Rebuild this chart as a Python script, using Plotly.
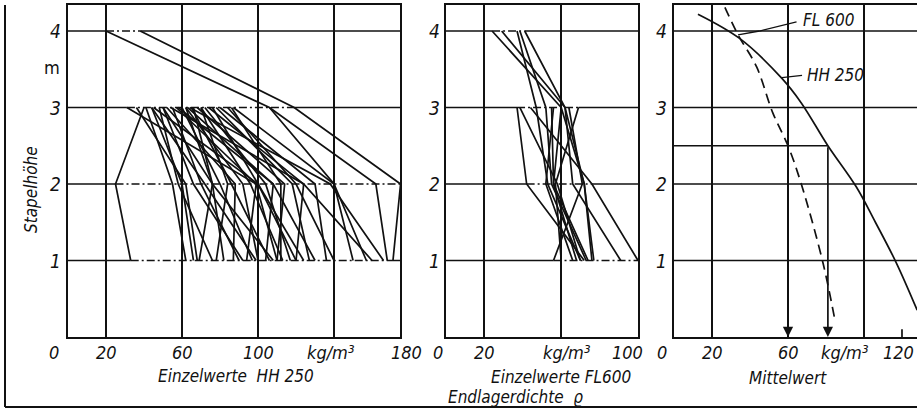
import plotly.graph_objects as go

# ---------------- data ----------------
HEIGHTS = [1, 2, 3, 4]  # Stapelhöhe in m

# Einzelwerte HH 250: density (kg/m³) at height 1, 2, 3 (and 4 where measured)
HH250_SINGLE = [
    [33, 25, 40], [62, 55, 41], [66, 60, 44], [68, 62, 36], [99, 72, 44],
    [110, 99, 31], [76, 58, 48], [82, 76, 50], [87, 88, 52], [90, 70, 55],
    [94, 99, 57], [97, 80, 60], [100, 92, 62], [104, 108, 63], [106, 86, 65],
    [108, 76, 66], [110, 114, 68], [113, 96, 70], [117, 104, 72], [120, 124, 74],
    [124, 100, 76], [127, 118, 78], [130, 108, 58], [136, 130, 80], [140, 120, 84],
    [150, 140, 106], [157, 140, 87], [160, 124, 54], [166, 138, 64], [112, 112, 86],
    [78, 84, 70], [92, 66, 50], [120, 100, 45], [69, 76, 62],
    [168, 162, 106, 20], [171, 175, 119, 38],
]

# Einzelwerte FL 600
FL600_SINGLE = [
    [74, 56, 60, 24], [91, 66, 62, 29], [70, 53, 47, 37], [73, 55, 52, 38.5],
    [76, 72, 62, 41], [72, 42, 37], [70, 58, 38.5], [100, 76, 44], [68, 56, 55],
    [60, 57, 69], [56, 71, 64], [77, 72, 60], [66, 52, 56],
]

# Mittelwerte
MEAN_HH250_H = [4.22, 3.9, 3.38, 3.06, 2.5, 1.96, 1.5, 0.97, 0.35]
MEAN_HH250_X = [12.6, 34.7, 56.8, 67, 81, 96, 106, 117, 128]
MEAN_FL600_H = [4.31, 3.95, 3.53, 2.93, 2.5, 2.0, 0.97, 0.22]
MEAN_FL600_X = [26.8, 33.7, 43.5, 52, 60, 67, 78.4, 84.7]

READ_HEIGHT = 2.5
READ_VALUES = [60, 81]

X1_TICKS = [20, 60, 100, 138]
X1_TEXT = ["20", "60", "100", "kg/m³"]
X2_TICKS = [20, 63]
X2_TEXT = ["20", "kg/m³"]
X3_TICKS = [20, 60, 90]
X3_TEXT = ["20", "60", "kg/m³"]
GRID1 = [20, 60, 100, 140]
GRID2 = [20, 60]
GRID3 = [20, 60, 100]
Y_TEXT = ["1", "2", "3", "4"]

# ---------------- layout constants ----------------
W, H = 917, 414
FONT = "Liberation Sans Narrow, DejaVu Sans Condensed, Liberation Sans, Arial, sans-serif"
INK = "#111111"
TICK_SIZE = 18


def px(v):
    return v / W


def py(v):
    return 1 - v / H


def label(x, y, text, xref="paper", yref="paper", size=16, **kw):
    d = dict(x=x, y=y, xref=xref, yref=yref, text=text, showarrow=False,
             xanchor="center", yanchor="middle", font=dict(size=size))
    d.update(kw)
    return d


YDOM = [py(337), py(5)]
YMAX = 4.34
panels = [
    dict(ax="", dom=[px(68), px(400)], xmax=174.7, grid=GRID1, data=HH250_SINGLE,
         ticks=X1_TICKS, text=X1_TEXT, ylab_x=55, zero_x=54, mirror=True),
    dict(ax="2", dom=[px(446), px(638)], xmax=100, grid=GRID2, data=FL600_SINGLE,
         ticks=X2_TICKS, text=X2_TEXT, ylab_x=434, zero_x=438, mirror=True),
    dict(ax="3", dom=[px(674), 1.0], xmax=127.9, grid=GRID3, data=None,
         ticks=X3_TICKS, text=X3_TEXT, ylab_x=661, zero_x=662, mirror=False),
]

fig = go.Figure()
shapes = []
annotations = []

for p in panels:
    xa, ya = "x" + p["ax"], "y" + p["ax"]
    # individual measurement lines
    if p["data"]:
        for vals in p["data"]:
            fig.add_trace(go.Scatter(
                x=vals, y=HEIGHTS[:len(vals)], mode="lines",
                line=dict(color=INK, width=1.7), xaxis=xa, yaxis=ya,
                showlegend=False, hoverinfo="skip"))
    # horizontal level lines: dash-dot across the measured range, solid elsewhere
    for lev in HEIGHTS:
        vals = [v[lev - 1] for v in (p["data"] or []) if len(v) >= lev]
        if vals:
            lo, hi = min(vals), max(vals)
            segs = [(0, lo, "solid"), (lo, hi, "8px,3px,2px,3px"), (hi, p["xmax"], "solid")]
        else:
            segs = [(0, p["xmax"], "solid")]
        for a, b, d in segs:
            if b - a <= 0:
                continue
            shapes.append(dict(type="line", xref=xa, yref=ya, x0=a, x1=b, y0=lev, y1=lev,
                               line=dict(color=INK, width=1.5, dash=d), layer="below"))
    # x tick labels
    for t, s in zip(p["ticks"], p["text"]):
        annotations.append(label(t, py(352), s, xref=xa, size=TICK_SIZE))
    annotations.append(label(px(p["zero_x"]), py(352), "0", size=TICK_SIZE))
    # y tick labels
    for lev, s in zip(HEIGHTS, Y_TEXT):
        annotations.append(label(px(p["ylab_x"]), lev, s, yref=ya, size=TICK_SIZE + 1))
    axis_x = dict(domain=p["dom"], range=[0, p["xmax"]], showgrid=True,
                  tickvals=p["grid"], showticklabels=False, ticks="",
                  gridcolor=INK, gridwidth=1.5, zeroline=False,
                  showline=True, linecolor=INK, linewidth=2, mirror=True,
                  anchor=ya, fixedrange=True)
    axis_y = dict(domain=YDOM, range=[0, YMAX], showgrid=False, showticklabels=False,
                  ticks="", zeroline=False, showline=True, linecolor=INK, linewidth=2,
                  mirror=p["mirror"], anchor=xa, fixedrange=True)
    fig.update_layout(**{"xaxis" + p["ax"]: axis_x, "yaxis" + p["ax"]: axis_y})

# end-of-scale labels placed at the panel edges
annotations += [
    label(px(406), py(352), "180", size=TICK_SIZE),
    label(px(627), py(352), "100", size=TICK_SIZE),
    label(px(916), py(352), "120", size=TICK_SIZE, xanchor="right"),
]

# mean value curves (panel 3)
fig.add_trace(go.Scatter(x=MEAN_HH250_X, y=MEAN_HH250_H, mode="lines", line_shape="spline",
                         line=dict(color=INK, width=1.7), xaxis="x3", yaxis="y3",
                         showlegend=False, hoverinfo="skip"))
fig.add_trace(go.Scatter(x=MEAN_FL600_X, y=MEAN_FL600_H, mode="lines", line_shape="spline",
                         line=dict(color=INK, width=1.7, dash="10px,6px"), xaxis="x3", yaxis="y3",
                         showlegend=False, hoverinfo="skip"))

# read-off construction at 2.5 m
shapes.append(dict(type="line", xref="x3", yref="y3", x0=0, x1=max(READ_VALUES),
                   y0=READ_HEIGHT, y1=READ_HEIGHT, line=dict(color=INK, width=1.7)))
for v in READ_VALUES:
    annotations.append(dict(x=v, y=0, ax=v, ay=READ_HEIGHT, xref="x3", yref="y3",
                            axref="x3", ayref="y3", text="", showarrow=True,
                            arrowhead=2, arrowsize=1.2, arrowwidth=1.7, arrowcolor=INK))
shapes.append(dict(type="line", xref="x3", yref="y3", x0=120, x1=120, y0=0, y1=0.1,
                   line=dict(color=INK, width=1.7)))

# curve labels with leader lines
shapes.append(dict(type="line", xref="x3", yref="y3", x0=33.7, y0=3.95, x1=45, y1=4.0,
                   line=dict(color=INK, width=1.3)))
shapes.append(dict(type="line", xref="x3", yref="y3", x0=45, y0=4.0, x1=64.5, y1=4.12,
                   line=dict(color=INK, width=1.3)))
shapes.append(dict(type="line", xref="x3", yref="y3", x0=56.8, y0=3.39, x1=67.4, y1=3.42,
                   line=dict(color=INK, width=1.3)))
annotations.append(label(67, 4.14, "FL 600", xref="x3", yref="y3", xanchor="left", size=17))
annotations.append(label(69, 3.42, "HH 250", xref="x3", yref="y3", xanchor="left", size=17))

# axis titles
annotations += [
    label(px(236), py(376), "Einzelwerte  HH 250", size=17),
    label(px(561), py(377), "Einzelwerte FL600", size=17),
    label(px(788), py(378), "Mittelwert", size=17),
    label(px(515), py(397), "Endlagerdichte  ϱ", size=17),
    label(px(31), py(190), "Stapelhöhe", textangle=-90, size=17),
    label(px(52), py(67), "m", size=18),
]
annotations[-1]["font"]["style"] = "normal"

# outer frame
shapes += [
    dict(type="line", xref="paper", yref="paper", x0=px(5), x1=px(5), y0=py(407), y1=py(5),
         line=dict(color=INK, width=2)),
    dict(type="line", xref="paper", yref="paper", x0=px(5), x1=1.0, y0=py(407), y1=py(407),
         line=dict(color=INK, width=2)),
]

fig.update_layout(
    width=W, height=H, margin=dict(l=0, r=0, t=0, b=0),
    paper_bgcolor="white", plot_bgcolor="white",
    font=dict(family=FONT, color=INK, size=16, style="italic"),
    shapes=shapes, annotations=annotations, showlegend=False,
)

fig.write_html("out.html", config={"displayModeBar": False},
               post_script="document.body.style.margin='0';")
